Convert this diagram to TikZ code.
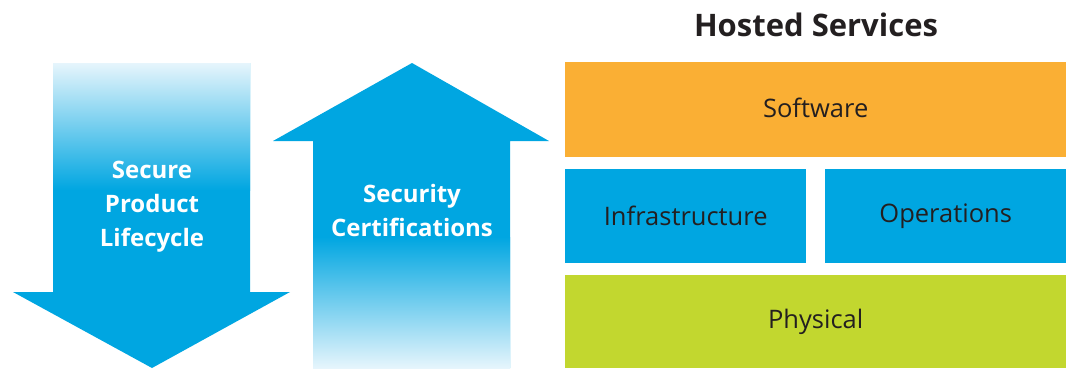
\documentclass[tikz,border=0pt]{standalone}
\usepackage{fontspec}
\setmainfont{Open Sans}
\definecolor{cblue}{HTML}{00A6E1}
\definecolor{clight}{HTML}{E6F5FC}
\definecolor{corange}{HTML}{FAAF34}
\definecolor{cgreen}{HTML}{C2D72F}
\definecolor{cdark}{HTML}{231F20}
\tikzset{
  arrowlabel/.style={text=white, font=\fontsize{24}{34}\selectfont\bfseries, align=center, inner sep=0pt},
  layerbox/.style={anchor=north west, inner sep=0pt},
  layertext/.style={text=cdark, font=\fontsize{25.5}{30}\selectfont, inner sep=0pt},
  heading/.style={text=cdark, font=\fontsize{31}{36}\selectfont\bfseries, inner sep=0pt}
}
\begin{document}
\begin{tikzpicture}[x=1pt,y=-1pt]
\useasboundingbox (0,0) rectangle (1068,368);
% down arrow
\fill[cblue] (53,63) -- (250,63) -- (250,292) -- (290,292) -- (152,368) -- (13,292) -- (53,292) -- cycle;
\shade[top color=clight, bottom color=cblue] (53,63) rectangle (250,190);
\node[arrowlabel] (spl) at (152,207) {Secure\\Product\\Lifecycle};
% up arrow
\fill[cblue] (412,63) -- (549,141) -- (510,141) -- (510,368) -- (313,368) -- (313,141) -- (273,141) -- cycle;
\shade[top color=cblue, bottom color=clight] (313,237) rectangle (510,368);
\node[arrowlabel, text depth=0pt] (sc) at (412,210) {Security\\Certifications};
% hosted services
\node[heading] (hs) at (816,25) {Hosted Services};
\node[layerbox, fill=corange, minimum width=501pt, minimum height=95pt] (sw) at (565,62) {};
\node[layertext] (swt) at ([yshift=2pt]sw.center) {Software};
\node[layerbox, fill=cblue, minimum width=241pt, minimum height=94pt] (inf) at (565,169) {};
\node[layertext] (inft) at (inf.center) {Infrastructure};
\node[layerbox, fill=cblue, minimum width=241pt, minimum height=94pt] (ops) at (825,169) {};
\node[layertext] (opst) at (ops.center) {Operations};
\node[layerbox, fill=cgreen, minimum width=501pt, minimum height=93pt] (phy) at (565,275) {};
\node[layertext] (phyt) at (phy.center) {Physical};
\end{tikzpicture}
\end{document}
